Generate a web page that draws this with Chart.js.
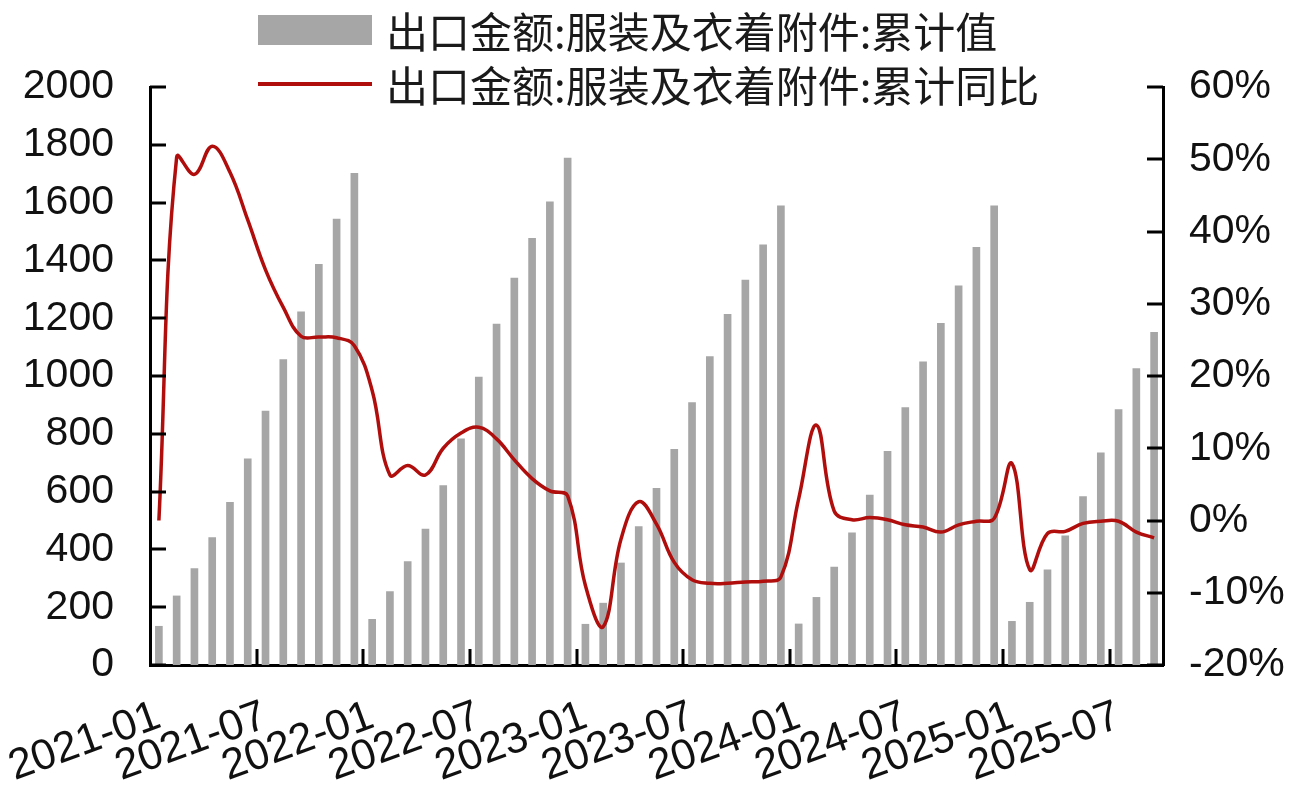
<!DOCTYPE html>
<html lang="zh">

<head>
    <meta charset="UTF-8">
    <title>出口金额:服装及衣着附件</title>
    <script src="https://cdn.jsdelivr.net/npm/chart.js"></script>
    <style>
        html, body { margin: 0; padding: 0; background: #fff; }
        .wrap { position: relative; width: 1308px; height: 807px; }
        .legend {
            position: absolute;
            left: 258px;
            top: 6px;
            font-family: "Noto Sans CJK SC", sans-serif;
            font-size: 42px;
            color: #1a1a1a;
            line-height: 48px;
        }
        .legend .row { display: flex; align-items: center; height: 48px; margin-bottom: 6px; }
        .legend .swatch { width: 114px; margin-right: 14px; }
        .legend .bar { height: 30px; background: #a6a6a6; }
        .legend .line { height: 4px; background: #b00d0d; }
    </style>
</head>

<body>
    <div class="wrap">
        <canvas id="chart"></canvas>
        <div class="legend">
            <div class="row"><div class="swatch bar"></div><span>出口金额:服装及衣着附件:累计值</span></div>
            <div class="row"><div class="swatch line"></div><span>出口金额:服装及衣着附件:累计同比</span></div>
        </div>
    </div>

    <script>
        // months 2021-01 .. 2025-09
        const months = [];
        for (let y = 2021; y <= 2025; y++) {
            for (let m = 1; m <= 12; m++) {
                if (y === 2025 && m > 9) break;
                months.push(y + '-' + String(m).padStart(2, '0'));
            }
        }

        // cumulative export value (亿美元)
        const cumValue = [
            134, 239, 334, 441, 563, 713, 879, 1057, 1222, 1386, 1543, 1701,
            158, 254, 358, 470, 621, 783, 996, 1180, 1339, 1476, 1603, 1754,
            141, 214, 353, 479, 611, 746, 908, 1067, 1213, 1332, 1454, 1589,
            142, 234, 339, 457, 588, 739, 891, 1049, 1182, 1312, 1445, 1589,
            151, 217, 329, 447, 583, 734, 884, 1026, 1151
        ];

        // cumulative yoy (%)
        const cumYoy = [
            0, 50.3, 47.9, 51.8, 48.2, 41.6, 34.7, 29.5, 25.5, 25.4, 25.3, 24.2,
            18, 6.3, 7.6, 6.3, 10, 12.1, 12.9, 11.3, 8.4, 5.8, 4.1, 3.4,
            -9, -14.7, -2.6, 2.6, -0.5, -5.8, -8.2, -8.7, -8.7, -8.5, -8.4, -7.8,
            3, 13.2, 1.3, 0.1, 0.4, 0.1, -0.6, -0.9, -1.6, -0.6, -0.1, 0.3,
            7.9, -6.8, -1.8, -1.5, -0.4, -0.1, -0.1, -1.6, -2.4
        ];

        const leftTicks = [0, 200, 400, 600, 800, 1000, 1200, 1400, 1600, 1800, 2000];
        const rightTicks = [-20, -10, 0, 10, 20, 30, 40, 50, 60];

        const axisFont = { family: 'Liberation Sans, Arial, sans-serif', size: 41 };

        // short inward tick marks like the original
        const inwardTicks = {
            id: 'inwardTicks',
            afterDraw(chart) {
                const ctx = chart.ctx;
                const { x, y, y1 } = chart.scales;
                const len = 16;
                ctx.save();
                ctx.strokeStyle = '#000';
                ctx.lineWidth = 3;
                ctx.beginPath();
                leftTicks.forEach(v => {
                    const py = Math.round(y.getPixelForValue(v));
                    ctx.moveTo(x.left, py);
                    ctx.lineTo(x.left + len, py);
                });
                rightTicks.forEach(v => {
                    const py = Math.round(y1.getPixelForValue(v));
                    ctx.moveTo(x.right, py);
                    ctx.lineTo(x.right - len, py);
                });
                const step = x.width / months.length;
                months.forEach((m, i) => {
                    if (i % 6 === 0 && i > 0) {
                        const px = Math.round(x.left + i * step);
                        ctx.moveTo(px, x.top);
                        ctx.lineTo(px, x.top - len);
                    }
                });
                ctx.stroke();
                ctx.restore();
            }
        };

        new Chart(document.getElementById('chart'), {
            data: {
                labels: months,
                datasets: [{
                    type: 'line',
                    label: '出口金额:服装及衣着附件:累计同比',
                    data: cumYoy,
                    yAxisID: 'y1',
                    borderColor: '#b00d0d',
                    borderWidth: 3.5,
                    pointRadius: 0,
                    tension: 0.4,
                    fill: false,
                    order: 0
                }, {
                    type: 'bar',
                    label: '出口金额:服装及衣着附件:累计值',
                    data: cumValue,
                    yAxisID: 'y',
                    backgroundColor: '#a6a6a6',
                    barThickness: 7,
                    order: 1
                }]
            },
            options: {
                responsive: true,
                maintainAspectRatio: false,
                animation: false,
                layout: { padding: { top: 87, left: 0, right: 0, bottom: 0 } },
                plugins: {
                    legend: { display: false },
                    tooltip: { enabled: false }
                },
                scales: {
                    x: {
                        offset: true,
                        grid: { display: false, drawTicks: false },
                        border: { display: true, color: '#000', width: 3 },
                        ticks: {
                            autoSkip: false,
                            minRotation: 20,
                            maxRotation: 20,
                            padding: 26,
                            color: '#111',
                            font: { family: axisFont.family, size: 43 },
                            callback: function (v, i) { return i % 6 === 0 ? months[i] : ''; }
                        },
                        afterFit: s => {
                            s.height = 142;
                            s.paddingLeft = 0;
                            s.paddingRight = 0;
                        }
                    },
                    y: {
                        position: 'left',
                        min: 0,
                        max: 2000,
                        grid: { display: false, drawTicks: false },
                        border: { display: true, color: '#000', width: 3 },
                        ticks: {
                            stepSize: 200,
                            padding: 36,
                            color: '#111',
                            font: axisFont,
                            callback: v => String(v)
                        },
                        afterFit: s => { s.width = 150; }
                    },
                    y1: {
                        position: 'right',
                        min: -20,
                        max: 60,
                        grid: { display: false, drawTicks: false },
                        border: { display: true, color: '#000', width: 3 },
                        ticks: {
                            stepSize: 10,
                            padding: 26,
                            color: '#111',
                            font: axisFont,
                            callback: v => v + '%'
                        },
                        afterFit: s => { s.width = 145; }
                    }
                }
            },
            plugins: [inwardTicks]
        });
    </script>
</body>

</html>
